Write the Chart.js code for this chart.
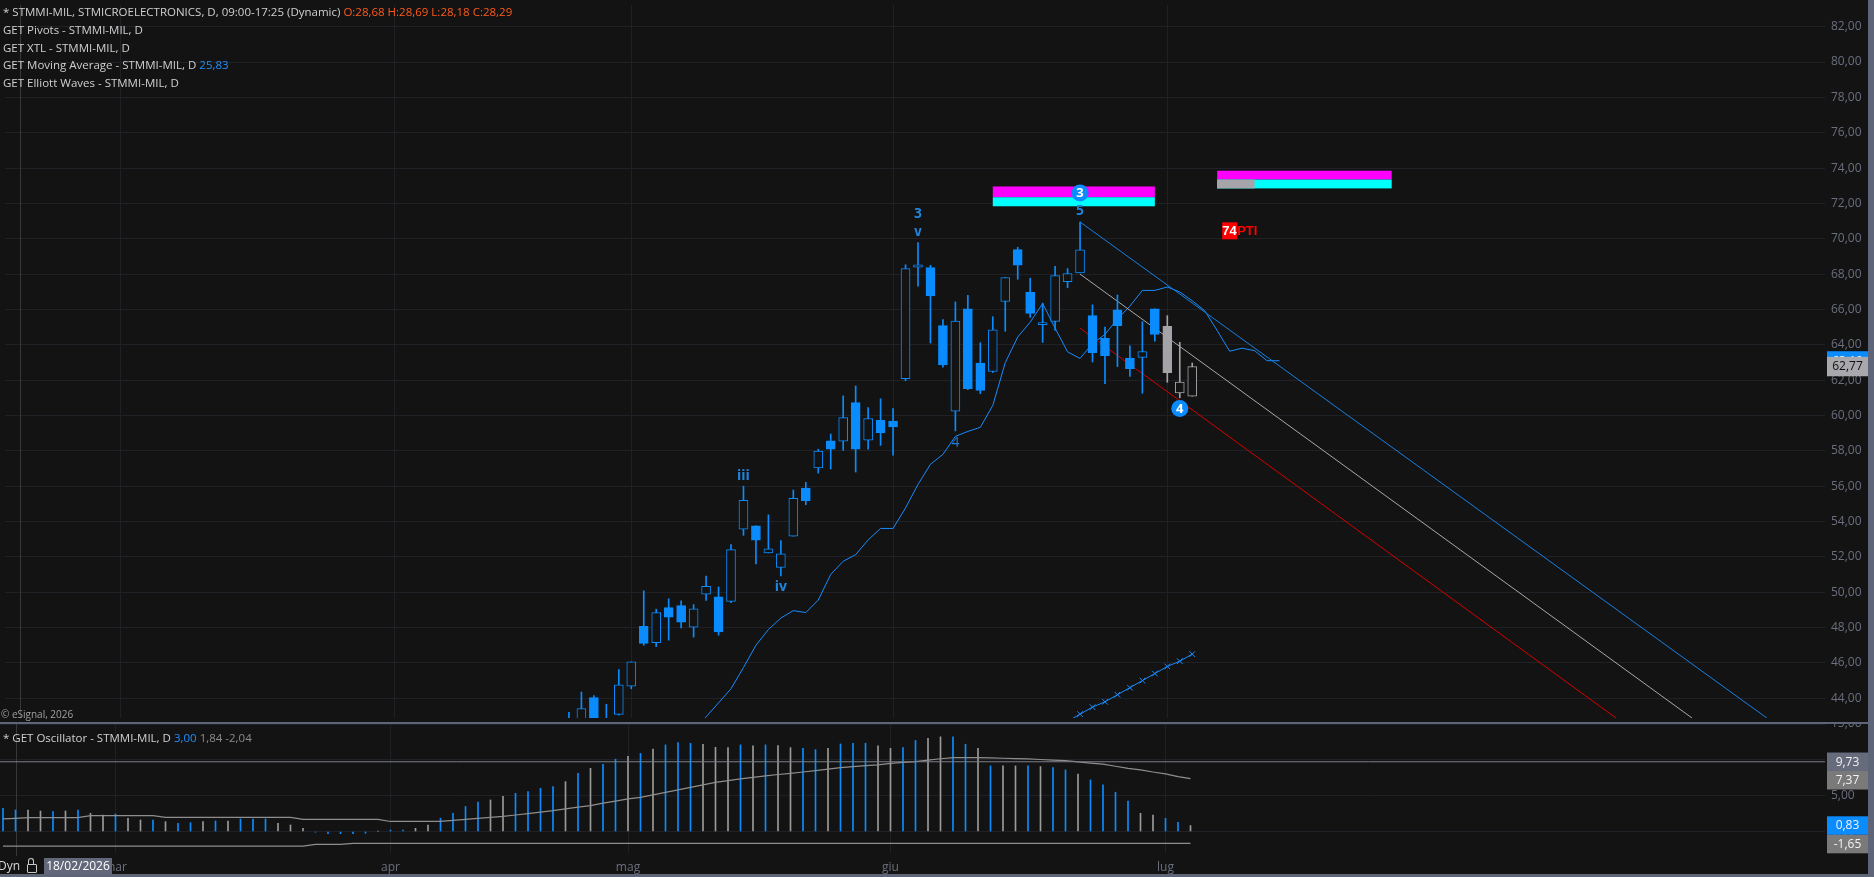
<!DOCTYPE html>
<html>
<head>
<meta charset="utf-8">
<script src="https://cdn.jsdelivr.net/npm/chart.js@4.4.1/dist/chart.umd.min.js"></script>
<style>
html, body { margin: 0; padding: 0; background: #131313; }
#wrap { position: relative; width: 1874px; height: 877px; overflow: hidden; background: #131313; font-family: "Open Sans", sans-serif; }
canvas { position: absolute; left: 0; }
#price { top: 0; }
#osc { top: 724px; }
.sep { position: absolute; background: #5f6578; }
.txt { position: absolute; white-space: nowrap; font-size: 11.5px; line-height: 14px; color: #d0d0d0; }
.datebox { position: absolute; left: 44px; top: 858px; width: 68px; height: 16px; background: #62677a; color: #fff; font-size: 12px; line-height: 16px; text-align: center; }
.lock { position: absolute; left: 27px; top: 864px; width: 8px; height: 7px; border: 1px solid #c8c8c8; border-radius: 1px; }
.shackle { position: absolute; left: 28px; top: 858px; width: 4px; height: 5px; border: 1px solid #c8c8c8; border-bottom: none; border-radius: 3px 3px 0 0; }
</style>
</head>
<body>
<div id="wrap">
  <canvas id="price" width="1868" height="723"></canvas>
  <canvas id="osc" width="1868" height="150"></canvas>
  <div class="sep" style="left:0;top:722px;width:1868px;height:2px"></div>
  <div class="sep" style="left:0;top:874px;width:1874px;height:3px"></div>
  <div class="sep" style="left:1868px;top:0;width:6px;height:877px"></div>

  <div class="txt" style="left:3px;top:5px">* STMMI-MIL, STMICROELECTRONICS, D, 09:00-17:25 (Dynamic) <span style="color:#ff5a1e">O:28,68 H:28,69 L:28,18 C:28,29</span></div>
  <div class="txt" style="left:3px;top:23px">GET Pivots - STMMI-MIL, D</div>
  <div class="txt" style="left:3px;top:41px">GET XTL - STMMI-MIL, D</div>
  <div class="txt" style="left:3px;top:58px">GET Moving Average - STMMI-MIL, D <span style="color:#1e90ff">25,83</span></div>
  <div class="txt" style="left:3px;top:76px">GET Elliott Waves - STMMI-MIL, D</div>
  <div class="txt" style="left:1px;top:707px;font-size:10px;color:#a0a0a0">© eSignal, 2026</div>
  <div class="txt" style="left:3px;top:731px">* GET Oscillator - STMMI-MIL, D <span style="color:#1e90ff">3,00</span> <span style="color:#8c8c8c">1,84 -2,04</span></div>
  <div class="txt" style="left:-2px;top:859px;font-size:12px;color:#d8d8d8">Dyn</div>
  <div class="shackle"></div>
  <div class="lock"></div>
  <div class="datebox">18/02/2026</div>
</div>

<script>
// x axis: one step per trading day, 17/02/2026 = 0 ... 03/07/2026 = 95
const monthTickIdx = [9, 31, 50, 71, 93];
const monthLabels = ['mar', 'apr', 'mag', 'giu', 'lug'];
const cursorIdx = 1;
const grayFrom = 93;
const priceTicks = [44, 46, 48, 50, 52, 54, 56, 58, 60, 62, 64, 66, 68, 70, 72, 74, 76, 78, 80, 82];
const oscTicks = [0, 5, 10, 15];

// daily candles (bars below the visible price range left empty)
const opens = [null, 28.68, ...Array(43).fill(null),
  42.30, 42.50, 44.04, 42.20, 43.09, 44.69, 48.07, 47.14, 49.13, 49.24,
  48.03, 49.89, 49.74, 49.48, 53.57, 53.76, 52.22, 51.40, 53.17, 55.89,
  57.04, 58.57, 58.55, 60.73, 58.60, 59.73, 59.68, 62.08, 68.40, 68.37,
  65.09, 60.25, 66.04, 62.97, 62.49, 66.45, 69.39, 66.99, 65.14, 65.33,
  67.58, 68.07, 65.65, 64.37, 65.98, 63.25, 63.29, 66.04, 65.04, 61.28, 61.09];
const highs = [null, 28.69, ...Array(43).fill(null),
  43.20, 44.35, 44.15, 43.66, 45.62, 46.06, 50.08, 49.04, 49.63, 49.52,
  49.30, 50.92, 50.30, 52.69, 56.00, 53.76, 54.38, 52.93, 55.78, 56.22,
  58.09, 58.95, 61.11, 61.67, 60.45, 60.95, 60.39, 68.53, 69.78, 68.50,
  65.43, 66.43, 66.80, 64.12, 65.59, 67.81, 69.52, 67.77, 66.36, 68.44,
  68.31, 70.95, 66.26, 65.00, 66.82, 63.94, 65.31, 66.04, 65.65, 64.14, 62.97];
const lows = [null, 28.18, ...Array(43).fill(null),
  41.90, 42.20, 42.40, 42.00, 43.05, 44.54, 47.00, 46.92, 47.29, 47.98,
  47.46, 49.54, 47.57, 49.41, 53.22, 51.60, 52.22, 50.92, 53.17, 54.95,
  56.74, 56.97, 58.03, 56.80, 58.09, 58.31, 57.75, 61.97, 67.32, 64.10,
  62.73, 59.13, 61.46, 61.24, 62.43, 64.77, 67.71, 65.55, 64.14, 64.81,
  67.23, 68.07, 63.03, 61.80, 62.77, 62.21, 61.26, 64.20, 61.88, 61.00, 61.09];
const closes = [null, 28.29, ...Array(43).fill(null),
  42.70, 43.42, 42.60, 42.80, 44.76, 46.06, 47.11, 48.85, 48.59, 48.31,
  49.06, 50.34, 47.76, 52.41, 55.20, 52.94, 52.46, 52.18, 55.31, 55.18,
  57.99, 58.09, 59.88, 58.09, 59.83, 59.03, 59.36, 68.31, 68.53, 66.77,
  62.86, 65.35, 61.52, 61.42, 64.85, 67.81, 68.51, 65.78, 65.18, 67.92,
  68.03, 69.37, 63.55, 63.38, 65.09, 62.65, 63.62, 64.59, 62.43, 61.89, 62.77];

// displaced moving average, from bar 55 to bar 102
const maStartIdx = 55;
const maValues = [42.20, 42.95, 43.74, 44.54, 45.74, 47.00, 47.89, 48.54, 48.96, 48.85,
  49.56, 51.01, 51.75, 52.13, 52.96, 53.61, 53.61, 54.77, 56.10, 57.24,
  57.80, 58.82, 59.10, 59.33, 60.57, 62.99, 64.44, 65.28, 66.34, 64.94,
  63.60, 63.23, 64.07, 64.59, 65.46, 66.19, 67.08, 67.08, 67.27, 66.99,
  66.49, 65.93, 64.81, 63.64, 63.81, 63.67, 63.10, 63.10];

// XTL line with cross markers
const xtlStartIdx = 85;
const xtlValues = [42.7, 43.1, 43.5, 43.8, 44.2, 44.6, 45.0, 45.4, 45.8, 46.1, 46.5];

// falling channel: upper (blue), middle (grey), lower (red)
const channelFromIdx = [86, 86, 86];
const channelFromPrice = [70.95, 68.00, 64.94];
const channelToIdx = [141.1, 135.1, 129.0];
const channelToPrice = [42.88, 42.88, 42.88];

// pivot zones
const pivotFrom = [79, 97];
const pivotTo = [92, 111];
const pivotTop = [72.96, 73.85];
const pivotMid = [72.35, 73.35];
const pivotBottom = [71.84, 72.85];
const pivotGrayTo = [null, 100];

// Elliott wave labels
const waveText = ['3', 'v', '5', 'iii', 'iv', '4'];
const waveDegree = ['minor', 'minor', 'minor', 'minute', 'minute', 'inter'];
const waveIdx = [73, 73, 86, 59, 62, 76];
const wavePrice = [71.38, 70.34, 71.55, 56.59, 50.27, 58.45];
const circleText = ['3', '4'];
const circleIdx = [86, 94];
const circlePrice = [72.59, 60.40];
const ptiIdx = 97.4;
const ptiPrice = 70.45;
const ptiValue = '74';

// oscillator pane
const oscHist = [3.24, 3.00, 3.00, 2.86, 2.77, 2.86, 3.00, 2.54, 2.30, 2.44,
  1.84, 1.61, 1.61, 1.37, 1.14, 1.23, 1.37, 1.47, 1.47, 1.75,
  1.75, 1.75, 1.14, 0.91, 0.44, -0.10, -0.30, -0.30, -0.30, -0.25,
  0.05, 0.21, 0.21, 0.44, 0.91, 1.84, 2.54, 3.49, 4.10, 4.40,
  4.90, 5.33, 5.56, 6.03, 6.26, 6.96, 8.12, 8.82, 9.38, 10.10,
  10.50, 10.90, 11.50, 12.08, 12.40, 12.31, 12.17, 11.75, 11.70, 12.08,
  11.94, 12.08, 11.99, 11.70, 11.60, 11.43, 11.60, 12.22, 12.31, 12.31,
  11.94, 11.60, 11.70, 12.70, 13.00, 13.20, 13.20, 12.17, 11.60, 9.15,
  9.15, 9.15, 9.15, 9.06, 8.92, 8.59, 8.00, 7.20, 6.50, 5.48,
  4.26, 2.54, 2.30, 1.84, 1.28, 0.83];
const oscRising = [1, 1, 0, 0, 1, 0, 1, 0, 0, 1,
  0, 0, 1, 0, 1, 1, 0, 1, 0, 1,
  1, 1, 0, 0, 0, 1, 1, 1, 1, 1,
  0, 1, 1, 0, 0, 1, 1, 1, 1, 0,
  0, 1, 1, 1, 1, 0, 1, 0, 1, 1,
  0, 1, 0, 1, 1, 1, 0, 0, 0, 1,
  0, 1, 0, 0, 1, 1, 0, 1, 1, 1,
  0, 0, 1, 1, 0, 0, 1, 1, 0, 1,
  0, 0, 1, 0, 1, 1, 0, 1, 1, 1,
  1, 0, 0, 1, 1, 0];
const oscSignal = [1.75, 1.84, 1.93, 1.93, 1.93, 1.93, 1.93, 2.21, 2.21, 2.21,
  2.21, 2.21, 2.21, 1.98, 1.98, 1.98, 1.98, 1.98, 1.98, 1.98,
  1.98, 1.98, 1.98, 1.98, 1.70, 1.70, 1.70, 1.70, 1.70, 1.70,
  1.70, 1.40, 1.40, 1.40, 1.40, 1.40, 1.55, 1.70, 1.84, 1.98,
  2.12, 2.30, 2.50, 2.70, 2.90, 3.15, 3.40, 3.60, 3.95, 4.25,
  4.55, 4.75, 5.10, 5.45, 5.80, 6.15, 6.50, 6.85, 7.10, 7.35,
  7.55, 7.75, 7.95, 8.10, 8.30, 8.50, 8.70, 8.90, 9.05, 9.20,
  9.30, 9.50, 9.65, 9.75, 9.95, 10.15, 10.30, 10.31, 10.31, 10.28,
  10.22, 10.17, 10.12, 10.05, 9.97, 9.88, 9.72, 9.55, 9.40, 9.10,
  8.82, 8.60, 8.30, 8.05, 7.65, 7.37];
const oscLower = [-2.04, -2.04, -2.04, -2.04, -2.04, -2.04, -2.04, -2.04, -2.04, -2.04,
  -2.04, -2.04, -2.04, -2.04, -2.04, -2.04, -2.04, -2.04, -2.04, -2.04,
  -2.04, -2.04, -2.04, -2.04, -2.04, -1.80, -1.80, -1.80, -1.65, -1.65,
  -1.65, -1.65, -1.65, -1.65, -1.65, -1.65, -1.65, -1.65, -1.65, -1.65,
  -1.65, -1.65, -1.65, -1.65, -1.65, -1.65, -1.65, -1.65, -1.65, -1.65,
  -1.65, -1.65, -1.65, -1.65, -1.65, -1.65, -1.65, -1.65, -1.65, -1.65,
  -1.65, -1.65, -1.65, -1.65, -1.65, -1.65, -1.65, -1.65, -1.65, -1.65,
  -1.65, -1.65, -1.65, -1.65, -1.65, -1.65, -1.65, -1.65, -1.65, -1.65,
  -1.65, -1.65, -1.65, -1.65, -1.65, -1.65, -1.65, -1.65, -1.65, -1.65,
  -1.65, -1.65, -1.65, -1.65, -1.65, -1.65];
const oscUpper = 9.73;

// ---- look ----
const BLUE = '#0a8cff';
const CANDLE_GRAY = '#a3a3a8';
const BG = '#131313';
const GRID = '#202126';
const AXIS_TXT = '#6b6f7e';
const X_MIN = -0.24, X_MAX = 145.76;
const fmt = v => v.toFixed(2).replace('.', ',');

const bars = [];
for (let i = 0; i < closes.length; i++) if (closes[i] !== null) bars.push(i);
const candleCol = bars.map(i => i >= grayFrom ? CANDLE_GRAY : BLUE);
const candleFill = bars.map((i, k) => closes[i] >= opens[i] ? BG : candleCol[k]);

function xAxis(showLabels) {
  return {
    type: 'linear', min: X_MIN, max: X_MAX, offset: false,
    grid: { color: GRID, offset: false, drawTicks: false },
    border: { display: false },
    afterBuildTicks: s => { s.ticks = monthTickIdx.map(v => ({ value: v })); },
    ticks: {
      display: showLabels, autoSkip: false, maxRotation: 0, padding: 7,
      color: AXIS_TXT, font: { family: '"Open Sans"', size: 12 },
      callback: v => monthLabels[monthTickIdx.indexOf(v)]
    },
    afterFit: s => { s.height = showLabels ? 21 : 0; s.paddingLeft = 0; s.paddingRight = 0; }
  };
}

function yAxis(min, max, ticks) {
  return {
    position: 'right', min: min, max: max,
    grid: { color: GRID, drawTicks: false },
    border: { display: false },
    afterBuildTicks: s => { s.ticks = ticks.map(v => ({ value: v })); },
    ticks: { padding: 6, color: AXIS_TXT, font: { family: '"Open Sans"', size: 12 }, callback: v => fmt(v) },
    afterFit: s => { s.width = 43; s.paddingTop = 0; s.paddingBottom = 0; }
  };
}

function axisBox(ctx, area, top, h, bg, fg, text) {
  ctx.fillStyle = bg;
  ctx.fillRect(area.right + 2, top, 41, h);
  ctx.fillStyle = fg;
  ctx.font = '12px "Open Sans"';
  ctx.textAlign = 'center';
  ctx.textBaseline = 'middle';
  ctx.fillText(text, area.right + 22.5, top + h / 2 + 0.5);
}

function cursorLine(chart, bottom) {
  const { ctx, chartArea: a, scales: { x } } = chart;
  const cx = Math.round(x.getPixelForValue(cursorIdx)) + 0.5;
  ctx.save();
  ctx.strokeStyle = '#383838';
  ctx.lineWidth = 1;
  ctx.beginPath();
  ctx.moveTo(cx, a.top);
  ctx.lineTo(cx, bottom);
  ctx.stroke();
  ctx.restore();
}

const priceOverlay = {
  id: 'priceOverlay',
  beforeDatasetsDraw(chart) {
    const { ctx, chartArea: a, scales: { x, y } } = chart;
    cursorLine(chart, a.bottom);
    ctx.save();
    pivotFrom.forEach((f, k) => {
      const x0 = x.getPixelForValue(f), x1 = x.getPixelForValue(pivotTo[k]);
      const yt = y.getPixelForValue(pivotTop[k]), ym = y.getPixelForValue(pivotMid[k]), yb = y.getPixelForValue(pivotBottom[k]);
      ctx.fillStyle = '#ff00ff';
      ctx.fillRect(x0, yt, x1 - x0, ym - yt);
      ctx.fillStyle = '#00ffff';
      ctx.fillRect(x0, ym, x1 - x0, yb - ym);
      if (pivotGrayTo[k] !== null) {
        ctx.fillStyle = '#a6a6aa';
        ctx.fillRect(x0, ym, x.getPixelForValue(pivotGrayTo[k]) - x0, yb - ym);
      }
    });
    ctx.restore();
  },
  afterDatasetsDraw(chart) {
    const { ctx, scales: { x, y } } = chart;
    ctx.save();
    ctx.textAlign = 'center';
    ctx.textBaseline = 'middle';
    waveText.forEach((t, k) => {
      const d = waveDegree[k];
      ctx.font = d === 'minor' ? 'bold 14px "DejaVu Sans Mono"' : d === 'minute' ? 'bold 14px "Open Sans"' : '14px "Open Sans"';
      ctx.fillStyle = d === 'inter' ? '#1f7cd0' : '#1f86e0';
      ctx.fillText(t, x.getPixelForValue(waveIdx[k]), y.getPixelForValue(wavePrice[k]));
    });
    circleText.forEach((t, k) => {
      const cx = x.getPixelForValue(circleIdx[k]), cy = y.getPixelForValue(circlePrice[k]);
      ctx.fillStyle = BLUE;
      ctx.beginPath();
      ctx.arc(cx, cy, 8.5, 0, Math.PI * 2);
      ctx.fill();
      ctx.fillStyle = '#ffffff';
      ctx.font = 'bold 13px "Open Sans"';
      ctx.fillText(t, cx, cy + 0.5);
    });
    const px = x.getPixelForValue(ptiIdx), py = y.getPixelForValue(ptiPrice);
    ctx.fillStyle = '#ff0000';
    ctx.fillRect(px, py - 8.5, 15, 17);
    ctx.font = 'bold 13px "Liberation Sans"';
    ctx.textAlign = 'left';
    ctx.fillStyle = '#ffffff';
    ctx.fillText(ptiValue, px, py + 0.5);
    ctx.fillStyle = '#ff0000';
    ctx.fillText('PTI', px + 15, py + 0.5);
    ctx.restore();
  },
  afterDraw(chart) {
    const { ctx, chartArea: a, scales: { y } } = chart;
    ctx.save();
    const maLast = maValues[maValues.length - 1];
    const lastClose = closes[closes.length - 1];
    axisBox(ctx, a, y.getPixelForValue(maLast) - 9.5, 19, BLUE, '#ffffff', fmt(maLast));
    axisBox(ctx, a, y.getPixelForValue(lastClose) - 9.7, 19.4, '#a9a9ad', '#111111', fmt(lastClose));
    ctx.restore();
  }
};

const oscOverlay = {
  id: 'oscOverlay',
  beforeDatasetsDraw(chart) { cursorLine(chart, chart.chartArea.bottom + 3); },
  afterDraw(chart) {
    const { ctx, chartArea: a, scales: { y } } = chart;
    const h = 18.5;
    const items = [
      [oscUpper, '#676c7c'],
      [oscSignal[oscSignal.length - 1], '#7a7a7a'],
      [oscHist[oscHist.length - 1], BLUE],
      [oscLower[oscLower.length - 1], '#7a7a7a']
    ];
    ctx.save();
    let prevBottom = -Infinity;
    items.forEach(([v, bg]) => {
      let top = y.getPixelForValue(v) - h / 2;
      if (top < prevBottom) top = prevBottom;
      axisBox(ctx, a, top, h, bg, '#f2f2f2', fmt(v));
      prevBottom = top + h;
    });
    ctx.restore();
  }
};

Chart.defaults.font.family = '"Open Sans"';

new Chart(document.getElementById('price'), {
  type: 'bar',
  data: {
    datasets: [
      ...channelFromIdx.map((f, k) => ({
        type: 'line',
        data: [{ x: f, y: channelFromPrice[k] }, { x: channelToIdx[k], y: channelToPrice[k] }],
        borderColor: ['#1580e0', '#a8a8a8', '#d40000'][k],
        borderWidth: 1, pointRadius: 0, order: 20
      })),
      {
        type: 'line',
        data: maValues.map((v, k) => ({ x: maStartIdx + k, y: v })),
        borderColor: '#1a8cff', borderWidth: 1, pointRadius: 0, order: 20
      },
      {
        type: 'line',
        data: xtlValues.map((v, k) => ({ x: xtlStartIdx + k, y: v })),
        borderColor: '#1a8cff', borderWidth: 1,
        pointStyle: 'crossRot', pointRadius: 4, pointBorderColor: '#1a8cff', pointBorderWidth: 1,
        order: 20
      },
      {
        type: 'bar',
        data: bars.map(i => ({ x: i, y: [lows[i], highs[i]] })),
        backgroundColor: candleCol, barThickness: 1, grouped: false, order: 11
      },
      {
        type: 'bar',
        data: bars.map(i => ({ x: i, y: [opens[i], closes[i]] })),
        backgroundColor: candleFill, borderColor: candleCol, borderWidth: 1, borderSkipped: false,
        barThickness: 9, minBarLength: 2, grouped: false, order: 10
      }
    ]
  },
  options: {
    responsive: false, animation: false, events: [],
    layout: { padding: 0 },
    plugins: { legend: { display: false }, tooltip: { enabled: false } },
    scales: { x: xAxis(false), y: yAxis(42.884, 83.228, priceTicks) }
  },
  plugins: [priceOverlay]
});

new Chart(document.getElementById('osc'), {
  type: 'bar',
  data: {
    datasets: [
      {
        type: 'line',
        data: [{ x: X_MIN, y: oscUpper }, { x: X_MAX, y: oscUpper }],
        borderColor: '#7c7f8a', borderWidth: 1, pointRadius: 0, order: 1
      },
      {
        type: 'line',
        data: oscSignal.map((v, i) => ({ x: i, y: v })),
        borderColor: '#8e8e8e', borderWidth: 1.2, pointRadius: 0, order: 1
      },
      {
        type: 'line',
        data: oscLower.map((v, i) => ({ x: i, y: v })),
        borderColor: '#8e8e8e', borderWidth: 1.2, pointRadius: 0, order: 1
      },
      {
        type: 'bar',
        data: oscHist.map((v, i) => ({ x: i, y: v })),
        backgroundColor: oscRising.map(r => r ? BLUE : '#9a9a9a'),
        barThickness: 1, grouped: false, order: 5
      }
    ]
  },
  options: {
    responsive: false, animation: false, events: [],
    layout: { padding: 0 },
    plugins: { legend: { display: false }, tooltip: { enabled: false } },
    scales: { x: xAxis(true), y: yAxis(-3, 15, oscTicks) }
  },
  plugins: [oscOverlay]
});
</script>
</body>
</html>
